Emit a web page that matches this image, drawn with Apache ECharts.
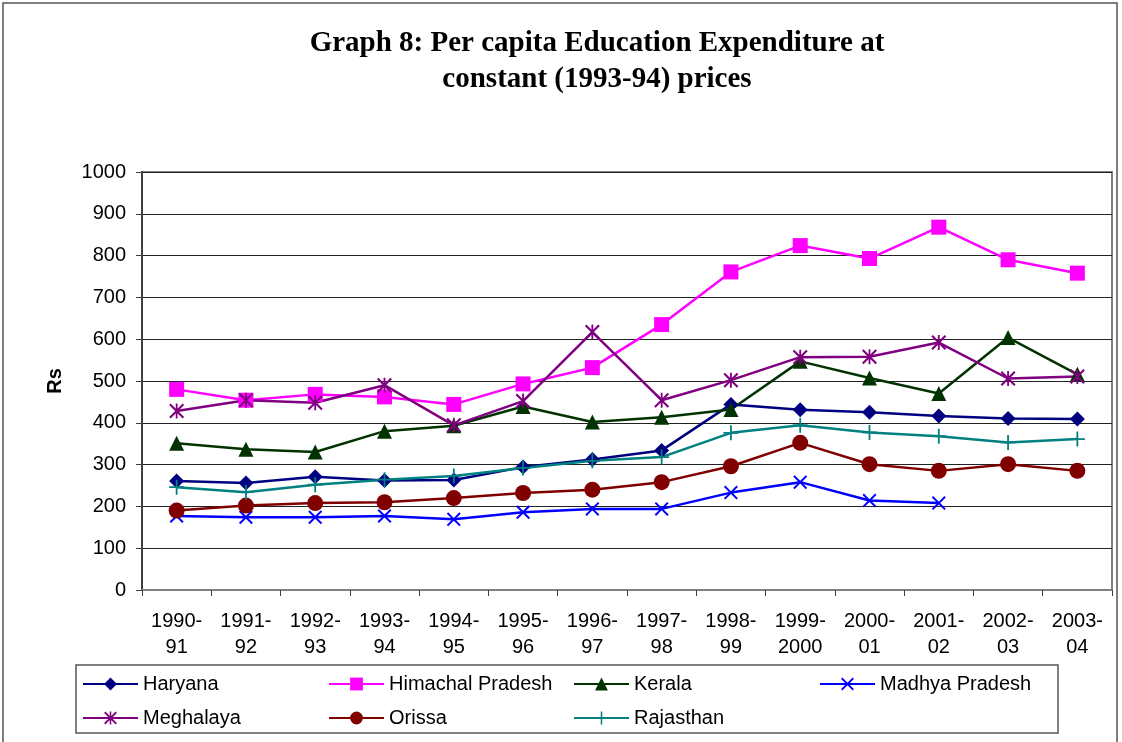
<!DOCTYPE html>
<html>
<head>
<meta charset="utf-8">
<script src="https://cdn.jsdelivr.net/npm/echarts@6/dist/echarts.min.js"></script>
<style>
  html, body { margin: 0; padding: 0; background: #fff; }
  #chart { width: 1122px; height: 742px; }
</style>
</head>
<body>
<div id="chart"></div>
<script>
// years on the x axis
const years = ['1990-\n91', '1991-\n92', '1992-\n93', '1993-\n94', '1994-\n95', '1995-\n96', '1996-\n97',
  '1997-\n98', '1998-\n99', '1999-\n2000', '2000-\n01', '2001-\n02', '2002-\n03', '2003-\n04'];

// per capita values (Rs)
const haryana   = [261, 256, 271, 262, 263, 294, 312, 334, 444, 431, 425, 416, 410, 409];
const himachal  = [480, 454, 468, 462, 444, 493, 532, 635, 761, 824, 793, 868, 790, 758];
const kerala    = [351, 337, 330, 380, 393, 439, 402, 413, 432, 547, 507, 470, 604, 516];
const madhya    = [177, 174, 174, 177, 169, 186, 194, 194, 233, 258, 214, 208, null, null];
const meghalaya = [428, 454, 448, 490, 394, 452, 617, 454, 502, 557, 558, 592, 506, 511];
const orissa    = [190, 202, 208, 210, 220, 232, 240, 258, 296, 352, 301, 285, 301, 285];
const rajasthan = [246, 234, 252, 264, 273, 292, 309, 318, 376, 394, 377, 368, 353, 361];

const stateNames = ['Haryana', 'Himachal Pradesh', 'Kerala', 'Madhya Pradesh', 'Meghalaya', 'Orissa', 'Rajasthan'];
const stateData = [haryana, himachal, kerala, madhya, meghalaya, orissa, rajasthan];

// marker shapes
const xMark = 'path://M0,1L1,0L5,4L9,0L10,1L6,5L10,9L9,10L5,6L1,10L0,9L4,5Z';
const starMark = 'path://M0,1L1,0L5,4L9,0L10,1L6,5L10,9L9,10L5,6L1,10L0,9L4,5Z M4.4,0L5.6,0L5.6,10L4.4,10Z';
const plusMark = 'path://M4.4,0L5.6,0L5.6,4.4L10,4.4L10,5.6L5.6,5.6L5.6,10L4.4,10L4.4,5.6L0,5.6L0,4.4L4.4,4.4Z';

const styles = [
  { color: '#000080', symbol: 'diamond', size: 15 },
  { color: '#ff00ff', symbol: 'rect', size: 15 },
  { color: '#003300', symbol: 'triangle', size: 15 },
  { color: '#0000ff', symbol: xMark, size: 14 },
  { color: '#800080', symbol: starMark, size: 15 },
  { color: '#800000', symbol: 'circle', size: 16 },
  { color: '#008080', symbol: plusMark, size: 15 }
];

// legend slots (Excel layout: 4 columns x 2 rows)
const legendPos = [[82, 674], [328, 674], [573, 674], [819, 674], [82, 708], [328, 708], [573, 708]];

const font = 'Arial, "Liberation Sans", sans-serif';

const chart = echarts.init(document.getElementById('chart'));

const series = stateNames.map(function (name, i) {
  return {
    name: name,
    type: 'line',
    data: stateData[i],
    symbol: styles[i].symbol,
    symbolSize: styles[i].size,
    showAllSymbol: true,
    connectNulls: false,
    lineStyle: { color: styles[i].color, width: 2.5 },
    itemStyle: { color: styles[i].color, borderWidth: 0 }
  };
});

const legends = stateNames.map(function (name, i) {
  return {
    data: [name],
    left: legendPos[i][0],
    top: legendPos[i][1],
    padding: 0,
    itemWidth: 55,
    itemHeight: 16,
    textStyle: { fontFamily: font, fontSize: 20, color: '#000' }
  };
});

const option = {
  animation: false,
  backgroundColor: '#fff',
  title: {
    text: 'Graph 8: Per capita Education Expenditure at\nconstant (1993-94) prices',
    left: 592,
    top: 21,
    textAlign: 'center',
    textStyle: {
      fontFamily: '"Liberation Serif", "Times New Roman", serif',
      fontWeight: 'bold',
      fontSize: 29,
      lineHeight: 36,
      color: '#000'
    }
  },
  legend: legends,
  grid: {
    left: 142,
    right: 10,
    top: 172,
    bottom: 152,
    show: true,
    borderColor: '#808080',
    borderWidth: 2
  },
  xAxis: {
    type: 'category',
    data: years,
    boundaryGap: true,
    axisLine: { lineStyle: { color: '#808080', width: 2 } },
    axisTick: { show: true, length: 6, lineStyle: { color: '#404040' } },
    axisLabel: {
      fontFamily: font,
      fontSize: 20,
      lineHeight: 26,
      color: '#000',
      margin: 18,
      interval: 0
    }
  },
  yAxis: {
    type: 'value',
    min: 0,
    max: 1000,
    interval: 100,
    name: 'Rs',
    nameLocation: 'middle',
    nameGap: 77,
    nameTextStyle: { fontFamily: font, fontSize: 20, fontWeight: 'bold', color: '#000' },
    axisLine: { show: true, lineStyle: { color: '#404040', width: 2 } },
    axisTick: { show: true, length: 6, lineStyle: { color: '#404040' } },
    axisLabel: {
      fontFamily: font,
      fontSize: 20,
      color: '#000',
      margin: 16,
      formatter: function (v) { return String(v); }
    },
    splitLine: { lineStyle: { color: '#222', width: 1 } }
  },
  graphic: [
    {
      type: 'rect',
      shape: { x: 3, y: 3, width: 1114, height: 780 },
      style: { fill: 'none', stroke: '#555', lineWidth: 1.5 },
      silent: true
    },
    {
      type: 'rect',
      shape: { x: 76, y: 665, width: 982, height: 68 },
      style: { fill: 'none', stroke: '#555', lineWidth: 1.5 },
      silent: true
    }
  ],
  series: series
};

chart.setOption(option);
</script>
</body>
</html>
